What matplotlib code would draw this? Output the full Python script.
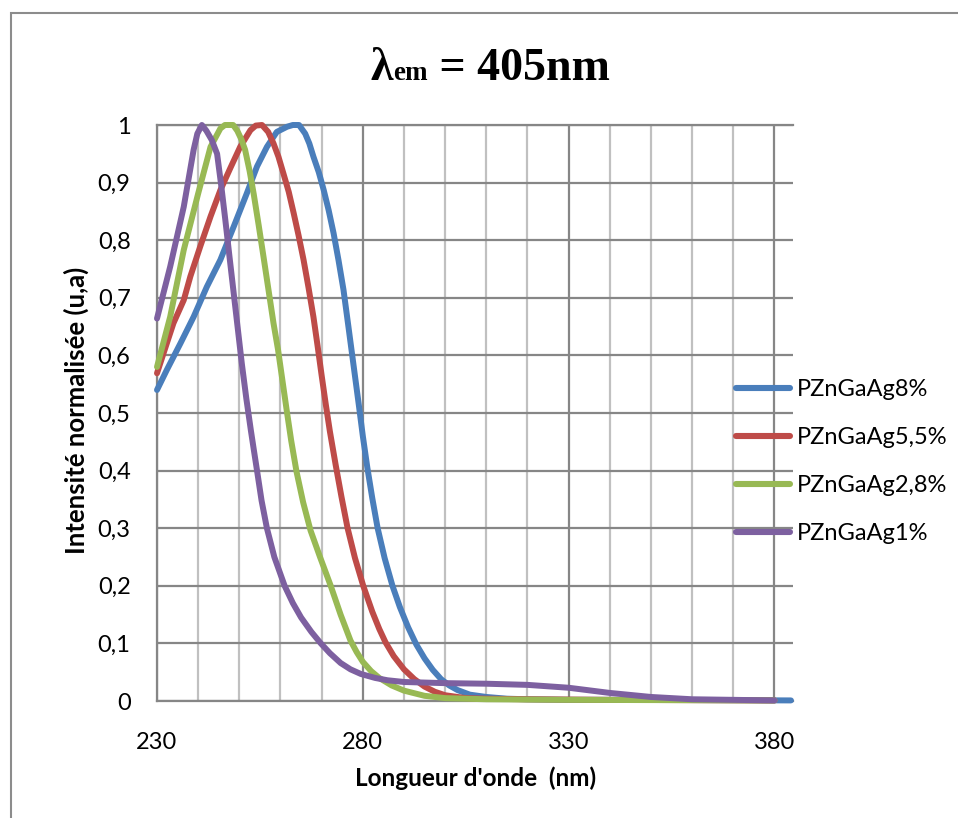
import matplotlib
matplotlib.use('Agg')
import matplotlib.pyplot as plt
from matplotlib.patches import Rectangle
from matplotlib.ticker import FixedLocator

# (nm, intensite normalisee)
wl_8 = [230, 232.4, 235.7, 238.9, 242.1, 245.4, 248.6, 251.8, 254.3, 256.7, 259.1, 261.6, 263, 264.5,
        266, 267, 268, 269.3, 270.5, 271.7, 272.9, 274.1, 275.3, 276.5, 277.8, 279.1, 280, 281.1,
        282.3, 283.6, 285.3, 287.2, 289, 291, 293, 295, 297, 299, 301, 303, 306, 310, 315, 320, 330,
        350, 384]
int_8 = [0.54, 0.575, 0.621, 0.667, 0.719, 0.766, 0.823, 0.881, 0.928, 0.962, 0.988, 0.997, 1.0, 1.0,
         0.985, 0.968, 0.945, 0.918, 0.887, 0.852, 0.812, 0.765, 0.714, 0.65, 0.58, 0.51, 0.46, 0.405,
         0.352, 0.3, 0.248, 0.2, 0.163, 0.128, 0.098, 0.074, 0.054, 0.038, 0.027, 0.019, 0.011, 0.007,
         0.004, 0.003, 0.002, 0.002, 0.001]

wl_55 = [230, 231.6, 234, 236.5, 238.1, 240.5, 243, 245.4, 247.8, 250.2, 252.7, 254, 255.5, 257,
         258.3, 259.5, 260.7, 262, 263.2, 264.4, 265.6, 266.8, 268, 269, 270, 271, 272, 273.4,
         274.8, 276.3, 278.1, 280.1, 282.3, 284, 285.5, 287.5, 290, 292.5, 295, 297.5, 300, 305,
         310, 320, 340, 380]
int_55 = [0.569, 0.604, 0.656, 0.696, 0.737, 0.789, 0.841, 0.887, 0.925, 0.962, 0.991, 0.999, 1.0, 0.988,
          0.968, 0.945, 0.916, 0.884, 0.847, 0.808, 0.766, 0.718, 0.667, 0.617, 0.565, 0.515, 0.468,
          0.41, 0.355, 0.3, 0.248, 0.2, 0.155, 0.125, 0.102, 0.078, 0.055, 0.038, 0.025, 0.016, 0.01,
          0.005, 0.004, 0.003, 0.002, 0.001]

wl_28 = [230, 233.2, 236.5, 240, 243, 245.4, 246.5, 248.5, 249.5, 250.5, 251.4, 252.5, 253.5, 254.7,
         255.9, 257.1, 258.3, 259.4, 260.5, 261.5, 262.6, 263.9, 265.5, 267.3, 269.6, 272.2, 274.6,
         277, 278.5, 280, 282, 284, 287, 290, 295, 300, 310, 330, 380]
int_28 = [0.58, 0.667, 0.783, 0.881, 0.962, 0.994, 1.0, 1.0, 0.99, 0.975, 0.957, 0.92, 0.88, 0.826,
          0.77, 0.713, 0.656, 0.61, 0.555, 0.505, 0.452, 0.398, 0.345, 0.296, 0.25, 0.2, 0.15,
          0.105, 0.085, 0.068, 0.052, 0.04, 0.027, 0.018, 0.009, 0.005, 0.003, 0.002, 0.001]

wl_1 = [230, 233.2, 236.5, 238.9, 239.8, 240.9, 242, 243.3, 244.6, 245.6, 246.6, 247.6, 248.6, 249.6,
        250.6, 251.7, 252.8, 253.5, 254.3, 255.4, 256.7, 258.5, 261, 263, 265, 267.5, 269.8, 272,
        274.6, 277, 279.5, 283, 286, 290, 300, 310, 320, 330, 340, 350, 360, 370, 380]
int_1 = [0.664, 0.754, 0.858, 0.957, 0.985, 1.0, 0.99, 0.974, 0.95, 0.895, 0.835, 0.772, 0.71, 0.648,
         0.586, 0.525, 0.47, 0.437, 0.4, 0.348, 0.3, 0.25, 0.2, 0.17, 0.145, 0.12, 0.1, 0.083,
         0.066, 0.055, 0.047, 0.04, 0.036, 0.033, 0.031, 0.03, 0.028, 0.023, 0.014, 0.007, 0.003,
         0.002, 0.001]

series = [
    ('PZnGaAg8%', wl_8, int_8, '#4A7EBB'),
    ('PZnGaAg5,5%', wl_55, int_55, '#BE4B48'),
    ('PZnGaAg2,8%', wl_28, int_28, '#98B954'),
    ('PZnGaAg1%', wl_1, int_1, '#7D60A0'),
]

x_major = [230, 280, 330, 380]
x_minor = [240, 250, 260, 270, 290, 300, 310, 320, 340, 350, 360, 370]
y_ticks = [0, 0.1, 0.2, 0.3, 0.4, 0.5, 0.6, 0.7, 0.8, 0.9, 1.0]
y_labels = ['0', '0,1', '0,2', '0,3', '0,4', '0,5', '0,6', '0,7', '0,8', '0,9', '1']

plt.rcParams['font.family'] = ['Lato', 'DejaVu Sans']

W, H = 958, 818
fig = plt.figure(figsize=(W / 100, H / 100), dpi=100)
fig.patch.set_facecolor('white')

# cadre exterieur du graphique
fig.patches.append(Rectangle((11 / W, -0.05), 1.1, 1 - 13 / H + 0.05, transform=fig.transFigure,
                             fill=False, edgecolor='#8c8c8c', linewidth=1.5))

ax = fig.add_axes([157 / W, 1 - 701 / H, (793 - 157) / W, (701 - 125) / H])
ax.set_xlim(230, 384.5)
ax.set_ylim(0, 1)

dark = '#868686'
light = '#c0c0c0'
ax.xaxis.set_major_locator(FixedLocator(x_major))
ax.xaxis.set_minor_locator(FixedLocator(x_minor))
ax.set_yticks(y_ticks)
ax.set_yticklabels(y_labels)
ax.grid(True, which='major', axis='both', color=dark, linewidth=1.6)
ax.grid(True, which='minor', axis='x', color=light, linewidth=1.6)
ax.tick_params(which='both', length=0, labelsize=17)
ax.tick_params(axis='x', pad=22)
ax.tick_params(axis='y', pad=19)
ax.set_axisbelow(True)

ax.spines['right'].set_visible(False)
for s in ['left', 'bottom', 'top']:
    ax.spines[s].set_color(dark)
    ax.spines[s].set_linewidth(1.6)

for label, wl, val, col in series:
    ax.plot(wl, val, color=col, linewidth=4.3, label=label, solid_joinstyle='round',
            solid_capstyle='round', clip_on=False, zorder=3)

ax.set_xlabel("Longueur d'onde  (nm)", fontsize=17.5, fontweight='bold', va='center')
ax.xaxis.set_label_coords((476 - 157) / 636, (701 - 778) / 576)
ax.set_ylabel('Intensité normalisée (u,a)', fontsize=18.5, fontweight='bold', va='center')
ax.yaxis.set_label_coords((76 - 157) / 636, (701 - 410) / 576)

leg = fig.legend(loc='upper left', bbox_to_anchor=(736 / W, 1 - 379 / H), frameon=False,
                 fontsize=17, handlelength=2.3, handletextpad=0.27, labelspacing=1.15,
                 borderpad=0, borderaxespad=0)
for line in leg.get_lines():
    line.set_linewidth(4.4)

# titre : lambda_em = 405nm
fig.canvas.draw()
r = fig.canvas.get_renderer()
serif = ['Liberation Serif', 'DejaVu Serif']
pieces = [('\u03bb', 33), ('em', 19.5), (' = 405nm', 33)]
texts = []
for s, fs in pieces:
    t = fig.text(0, 1 - 80 / H, s, fontsize=fs, fontweight='bold', family=serif, va='baseline')
    texts.append(t)
widths = [t.get_window_extent(r).width for t in texts]
x = 490 - sum(widths) / 2
for t, w in zip(texts, widths):
    t.set_x(x / W)
    x += w

fig.savefig('out.png', dpi=100, facecolor='white')
